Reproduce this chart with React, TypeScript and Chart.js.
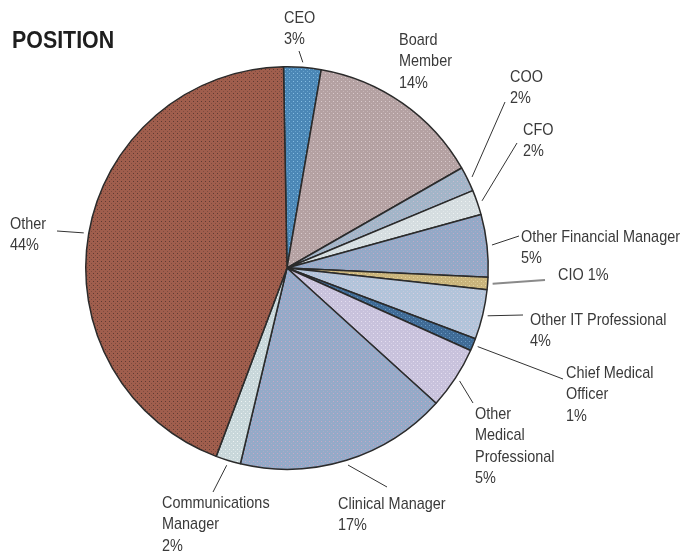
import React, { useEffect, useRef } from "react";
import { Chart, registerables } from "chart.js";

Chart.register(...registerables);

const TITLE = "POSITION";
const CATEGORIES = [
  "CEO",
  "Board Member",
  "COO",
  "CFO",
  "Other Financial Manager",
  "CIO",
  "Other IT Professional",
  "Chief Medical Officer",
  "Other Medical Professional",
  "Clinical Manager",
  "Communications Manager",
  "Other",
];
const VALUES = [3, 14, 2, 2, 5, 1, 4, 1, 5, 17, 2, 44];
const BASE_COLORS = [
  "#4b87b6", "#b4a1a2", "#a2b5c8", "#d5dde0", "#93a9c7", "#c9b47c",
  "#b2c4da", "#3f6b96", "#c8c2dc", "#94aac8", "#c8d7da", "#a05e4d",
];
const DOT_COLORS = [
  "#86bde2", "#d9c9cb", "#c9bcd0", "#eef2f2", "#c2a9c6", "#e6d6a0",
  "#d8cde0", "#6f9cc4", "#e6def0", "#c6a8c6", "#eef3f3", "#5e3a32",
];

// label layout (text anchor, baseline of first line, leader-line end)
const LABEL_LAYOUT = [
  { x: 284, y: 23, lines: ["CEO"], end: [299, 51] },
  { x: 399, y: 45, lines: ["Board", "Member"], end: null },
  { x: 510, y: 82, lines: ["COO"], end: [505, 102] },
  { x: 523, y: 135, lines: ["CFO"], end: [517, 143] },
  { x: 521, y: 242, lines: ["Other Financial Manager"], end: [519, 236] },
  { x: 558, y: 280, lines: [], inline: "CIO", end: [545, 280], lw: 2, lc: "#8a8a8a" },
  { x: 530, y: 325, lines: ["Other IT Professional"], end: [523, 315] },
  { x: 566, y: 378, lines: ["Chief Medical", "Officer"], end: [563, 379] },
  { x: 475, y: 419, lines: ["Other", "Medical", "Professional"], end: [473, 403] },
  { x: 338, y: 509, lines: ["Clinical Manager"], end: [387, 487] },
  { x: 162, y: 508, lines: ["Communications", "Manager"], end: [213, 492] },
  { x: 10, y: 229, lines: ["Other"], end: [57, 231] },
];

const LABEL_FONT = '17px "Liberation Sans", Arial, sans-serif';
const LABEL_SCALE_X = 0.85;
const TITLE_FONT = 'bold 23px "Liberation Sans", Arial, sans-serif';
const TITLE_SCALE_X = 0.93;
const LINE_H = 21.3;

function makePattern(base: string, dot: string): CanvasPattern | string {
  const c = document.createElement("canvas");
  c.width = 4;
  c.height = 4;
  const g = c.getContext("2d");
  if (!g) return base;
  g.fillStyle = base;
  g.fillRect(0, 0, 4, 4);
  g.fillStyle = dot;
  g.fillRect(1, 1, 1, 1);
  g.globalAlpha = 0.5;
  g.fillRect(3, 3, 1, 1);
  const p = g.createPattern(c, "repeat");
  return p || base;
}

function drawScaled(ctx: CanvasRenderingContext2D, text: string, x: number, y: number, sx: number) {
  ctx.save();
  ctx.translate(x, y);
  ctx.scale(sx, 1);
  ctx.fillText(text, 0, 0);
  ctx.restore();
}

const labelPlugin = {
  id: "labelPlugin",
  afterDraw(chart: any) {
    const ctx = chart.ctx as CanvasRenderingContext2D;
    const meta = chart.getDatasetMeta(0);
    ctx.save();
    ctx.fillStyle = "#1e1e1e";
    ctx.font = TITLE_FONT;
    ctx.textBaseline = "alphabetic";
    ctx.textAlign = "left";
    drawScaled(ctx, TITLE, 12, 48, TITLE_SCALE_X);

    ctx.font = LABEL_FONT;
    ctx.fillStyle = "#3a3a3a";
    meta.data.forEach((arc: any, i: number) => {
      const lay = LABEL_LAYOUT[i];
      const pct = VALUES[i] + "%";
      let y = lay.y;
      if (lay.inline) {
        drawScaled(ctx, lay.inline + " " + pct, lay.x, y, LABEL_SCALE_X);
      } else {
        lay.lines.forEach((t: string) => {
          drawScaled(ctx, t, lay.x, y, LABEL_SCALE_X);
          y += LINE_H;
        });
        drawScaled(ctx, pct, lay.x, y, LABEL_SCALE_X);
      }
      if (lay.end) {
        const p = arc.getProps(["x", "y", "startAngle", "endAngle", "outerRadius"], true);
        const mid = (p.startAngle + p.endAngle) / 2;
        const r = p.outerRadius + 5;
        const sx = p.x + Math.cos(mid) * r;
        const sy = p.y + Math.sin(mid) * r;
        ctx.beginPath();
        ctx.strokeStyle = lay.lc || "#333";
        ctx.lineWidth = lay.lw || 1;
        ctx.moveTo(sx, sy);
        ctx.lineTo(lay.end[0], lay.end[1]);
        ctx.stroke();
      }
    });
    ctx.restore();
  },
};

export default function App() {
  const ref = useRef<HTMLCanvasElement | null>(null);
  useEffect(() => {
    if (!ref.current) return;
    const patterns = BASE_COLORS.map((b, i) => makePattern(b, DOT_COLORS[i]));
    const chart = new Chart(ref.current, {
      type: "pie",
      data: {
        labels: CATEGORIES,
        datasets: [
          {
            data: VALUES,
            backgroundColor: patterns as any,
            borderColor: "#2b2b2b",
            borderWidth: 1.5,
            hoverOffset: 0,
            offset: 0,
          },
        ],
      },
      options: {
        responsive: false,
        animation: false,
        events: [],
        rotation: -1,
        layout: { padding: { left: 85, right: 204, top: 66, bottom: 85 } },
        plugins: {
          legend: { display: false },
          tooltip: { enabled: false },
          title: { display: false },
        },
      },
      plugins: [labelPlugin],
    });
    return () => chart.destroy();
  }, []);
  return (
    <div style={{ position: "absolute", left: 0, top: 0, width: 693, height: 555, background: "#fff" }}>
      <canvas ref={ref} width={693} height={555} style={{ display: "block", width: 693, height: 555 }} />
    </div>
  );
}
